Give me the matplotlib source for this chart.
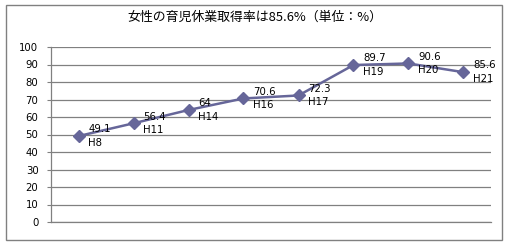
import matplotlib
matplotlib.use("Agg")
import matplotlib.pyplot as plt
from matplotlib.patches import Rectangle

plt.rcParams['font.family'] = ['DejaVu Sans', 'Noto Sans CJK JP']

categories = ["H8", "H11", "H14", "H16", "H17", "H19", "H20", "H21"]
values = [49.1, 56.4, 64, 70.6, 72.3, 89.7, 90.6, 85.6]
value_labels = ["49.1", "56.4", "64", "70.6", "72.3", "89.7", "90.6", "85.6"]
yticks = [0, 10, 20, 30, 40, 50, 60, 70, 80, 90, 100]
title = "女性の育児休業取得率は85.6%（単位：%）"

W, H = 510, 250
fig = plt.figure(figsize=(W / 100, H / 100), dpi=100)
fig.patch.set_facecolor("white")

# outer border
fig.patches.append(Rectangle((6 / W, 1 - 240 / H), (502 - 6) / W, (240 - 5) / H,
                             transform=fig.transFigure, fill=False,
                             edgecolor="#808080", linewidth=1.0))

ax = fig.add_axes([51 / W, 1 - 222 / H, (491 - 51) / W, (222 - 47) / H])
x = list(range(len(categories)))
ax.plot(x, values, color="#666699", linewidth=1.8, marker="D", markersize=6,
        markerfacecolor="#666699", markeredgecolor="#666699", zorder=3)

for xi, v, vl, c in zip(x, values, value_labels, categories):
    ax.annotate(vl + "\n" + c, (xi, v), xytext=(7, 0), textcoords="offset points",
                ha="left", va="center", fontsize=7.3, linespacing=1.45,
                color="black", zorder=4)

ax.set_xlim(-0.5, len(categories) - 0.5)
ax.set_ylim(0, 100)
ax.set_yticks(yticks)
ax.set_yticklabels([str(t) for t in yticks], fontsize=7.3)
ax.set_xticks([])
ax.yaxis.grid(True, color="#808080", linewidth=0.9)
ax.set_axisbelow(True)
for s in ["top", "right"]:
    ax.spines[s].set_visible(False)
for s in ["left", "bottom"]:
    ax.spines[s].set_color("#808080")
    ax.spines[s].set_linewidth(0.9)
ax.tick_params(axis="y", length=3, color="#808080", pad=6)

fig.text(255 / W, 1 - 17 / H, title, ha="center", va="center", fontsize=9.3,
         family=['Noto Sans CJK JP', 'DejaVu Sans'])

fig.savefig("out.png", dpi=100)
